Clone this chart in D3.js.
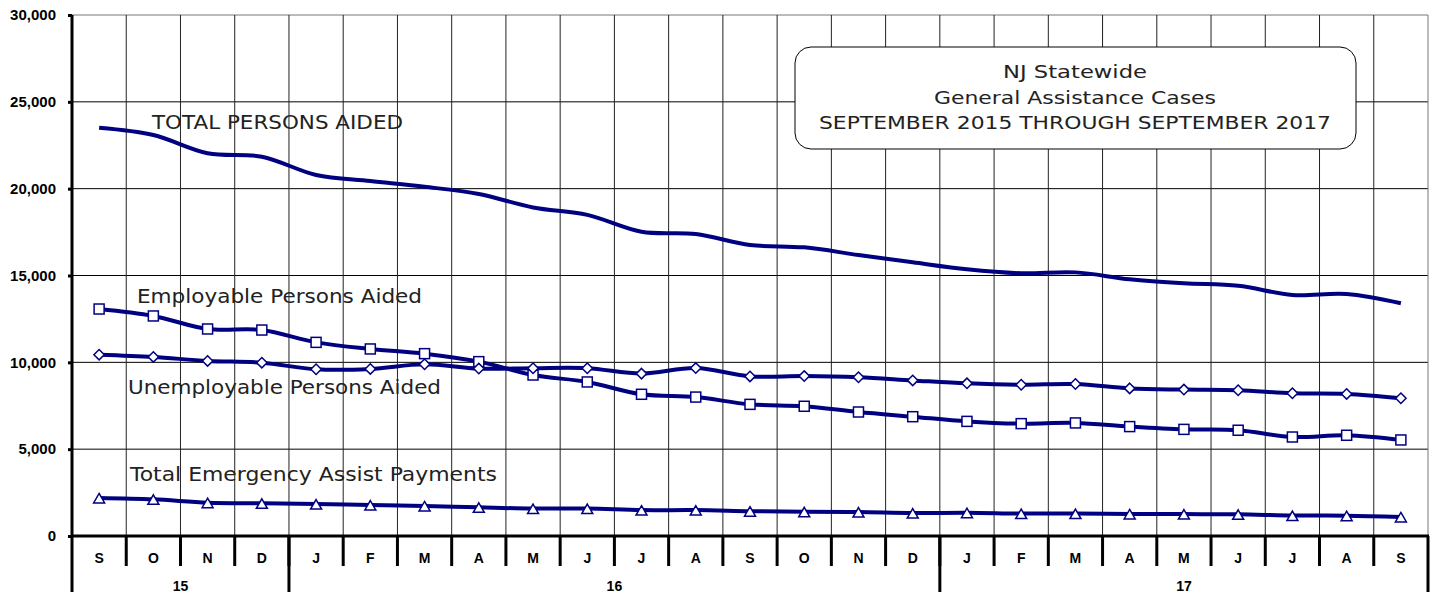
<!DOCTYPE html>
<html><head><meta charset="utf-8">
<script src="https://cdn.jsdelivr.net/npm/d3@7"></script>
<style>
html,body{margin:0;padding:0;background:#fff;}
svg{display:block;}
</style></head>
<body>
<svg id="chart" width="1440" height="592"></svg>
<script>
const months = ["S","O","N","D","J","F","M","A","M","J","J","A","S","O","N","D","J","F","M","A","M","J","J","A","S"];
const years = ["15","16","17"];
const yearMonthCounts = [4, 12, 9];
const yTicks = [0, 5000, 10000, 15000, 20000, 25000, 30000];

const totalPersons = [23510,23090,22040,21840,20790,20440,20110,19690,18920,18490,17520,17390,16760,16620,16180,15760,15360,15130,15180,14780,14550,14410,13880,13930,13400];
const employable = [13070,12670,11920,11860,11150,10770,10500,10040,9270,8870,8160,8000,7580,7470,7140,6870,6600,6470,6510,6300,6140,6090,5700,5800,5530];
const unemployable = [10440,10310,10080,9980,9600,9620,9890,9640,9660,9660,9350,9670,9190,9210,9140,8960,8790,8710,8750,8500,8430,8390,8220,8180,7930];
const emergency = [2190,2110,1920,1880,1840,1780,1730,1650,1580,1580,1490,1490,1430,1390,1380,1320,1340,1290,1290,1270,1260,1250,1180,1170,1100];

const titleLines = ["NJ Statewide","General Assistance Cases","SEPTEMBER 2015 THROUGH SEPTEMBER 2017"];

const L = 72, R = 1428, T = 15, B = 536, H = 592;
const navy = "#000080";
const svg = d3.select("#chart");
const idx = d3.range(months.length);
const x = d3.scaleBand().domain(idx).range([L, R]).paddingInner(0).paddingOuter(0);
const y = d3.scaleLinear().domain([0, 30000]).range([B, T]);
const cx = i => x(i) + x.bandwidth() / 2;

// grid
const grid = svg.append("g");
grid.selectAll("line.h").data(yTicks.filter(v => v > 0)).join("line")
  .attr("x1", L).attr("x2", R).attr("y1", d => y(d)).attr("y2", d => y(d))
  .attr("stroke", d => d === 30000 ? "#777" : "#000").attr("stroke-width", 1);
grid.selectAll("line.v").data(d3.range(1, months.length + 1)).join("line")
  .attr("x1", d => d === months.length ? R : x(d)).attr("x2", d => d === months.length ? R : x(d))
  .attr("y1", T).attr("y2", B)
  .attr("stroke", d => d === months.length ? "#777" : "#222").attr("stroke-width", 1);

// series labels
const labelFont = "'DejaVu Sans', Verdana, sans-serif";
const seriesLabels = [
  {text: "TOTAL PERSONS AIDED", x: 152, y: 129, w: 251},
  {text: "Employable Persons Aided", x: 137, y: 303, w: 285},
  {text: "Unemployable Persons Aided", x: 128, y: 394, w: 313},
  {text: "Total Emergency Assist Payments", x: 130, y: 481, w: 367}
];
svg.append("g").selectAll("text").data(seriesLabels).join("text")
  .attr("x", d => d.x).attr("y", d => d.y)
  .attr("textLength", d => d.w).attr("lengthAdjust", "spacingAndGlyphs")
  .attr("font-family", labelFont).attr("font-size", 19.5).attr("fill", "#222")
  .text(d => d.text);

// title box
const tb = svg.append("g");
tb.append("rect").attr("x", 795).attr("y", 47).attr("width", 561).attr("height", 102)
  .attr("rx", 16).attr("ry", 16).attr("fill", "#fff").attr("stroke", "#000").attr("stroke-width", 1);
const tw = [144, 282, 512];
tb.selectAll("text").data(titleLines).join("text")
  .attr("x", 1075).attr("y", (d, i) => 78 + i * 25.5)
  .attr("text-anchor", "middle").attr("font-family", labelFont).attr("font-size", 18)
  .attr("textLength", (d, i) => tw[i]).attr("lengthAdjust", "spacingAndGlyphs")
  .attr("fill", "#222").text(d => d);

// lines
const line = d3.line().x((d, i) => cx(i)).y(d => y(d)).curve(d3.curveCatmullRom.alpha(0.5));
const series = [totalPersons, employable, unemployable, emergency];
svg.append("g").selectAll("path").data(series).join("path")
  .attr("d", d => line(d)).attr("fill", "none").attr("stroke", navy)
  .attr("stroke-width", 4).attr("stroke-linejoin", "round");

// markers
const mk = svg.append("g").attr("fill", "#fff").attr("stroke", navy).attr("stroke-width", 1.5);
mk.selectAll("rect").data(employable).join("rect")
  .attr("x", (d, i) => cx(i) - 5).attr("y", d => y(d) - 5).attr("width", 10).attr("height", 10);
mk.selectAll("path.dia").data(unemployable).join("path").attr("class", "dia")
  .attr("d", (d, i) => { const px = cx(i), py = y(d), r = 5.2; return `M${px},${py - r}L${px + r},${py}L${px},${py + r}L${px - r},${py}Z`; });
mk.selectAll("path.tri").data(emergency).join("path").attr("class", "tri")
  .attr("d", (d, i) => { const px = cx(i), py = y(d) + 1; return `M${px},${py - 5.5}L${px + 5.5},${py + 4}L${px - 5.5},${py + 4}Z`; });

// y axis
const yAxis = d3.axisLeft(y).tickValues(yTicks).tickFormat(d3.format(",")).tickSizeInner(4).tickSizeOuter(0).tickPadding(12);
const ya = svg.append("g").attr("transform", `translate(${L},0)`).call(yAxis);
ya.select(".domain").remove();
ya.selectAll(".tick line").attr("stroke", "#000").attr("stroke-width", 3);
ya.selectAll(".tick text").attr("font-family", "'Liberation Sans', Arial, sans-serif")
  .attr("font-weight", "bold").attr("font-size", 15).attr("fill", "#000");

// frame lines
const fr = svg.append("g").attr("stroke", "#000").attr("stroke-width", 3);
fr.append("line").attr("x1", L).attr("x2", L).attr("y1", T).attr("y2", H);
fr.append("line").attr("x1", L).attr("x2", R + 1).attr("y1", B).attr("y2", B);
fr.selectAll("line.mt").data(d3.range(1, months.length)).join("line").attr("class", "mt")
  .attr("x1", d => x(d)).attr("x2", d => x(d)).attr("y1", B).attr("y2", 566);
const yearBounds = [0];
yearMonthCounts.forEach(c => yearBounds.push(yearBounds[yearBounds.length - 1] + c));
fr.selectAll("line.yt").data(yearBounds.slice(1)).join("line").attr("class", "yt")
  .attr("x1", d => d === months.length ? R : x(d)).attr("x2", d => d === months.length ? R : x(d))
  .attr("y1", B).attr("y2", H);

// month labels
const axFont = "'Liberation Sans', Arial, sans-serif";
svg.append("g").selectAll("text").data(months).join("text")
  .attr("x", (d, i) => cx(i)).attr("y", 562.5).attr("text-anchor", "middle")
  .attr("font-family", axFont).attr("font-weight", "bold").attr("font-size", 14).text(d => d);
// year labels
svg.append("g").selectAll("text").data(years).join("text")
  .attr("x", (d, i) => { const a = yearBounds[i], b = yearBounds[i + 1]; const xa = x(a), xb = b === months.length ? R : x(b); return (xa + xb) / 2; })
  .attr("y", 590.5).attr("text-anchor", "middle")
  .attr("font-family", axFont).attr("font-weight", "bold").attr("font-size", 14).text(d => d);
</script>
</body></html>
